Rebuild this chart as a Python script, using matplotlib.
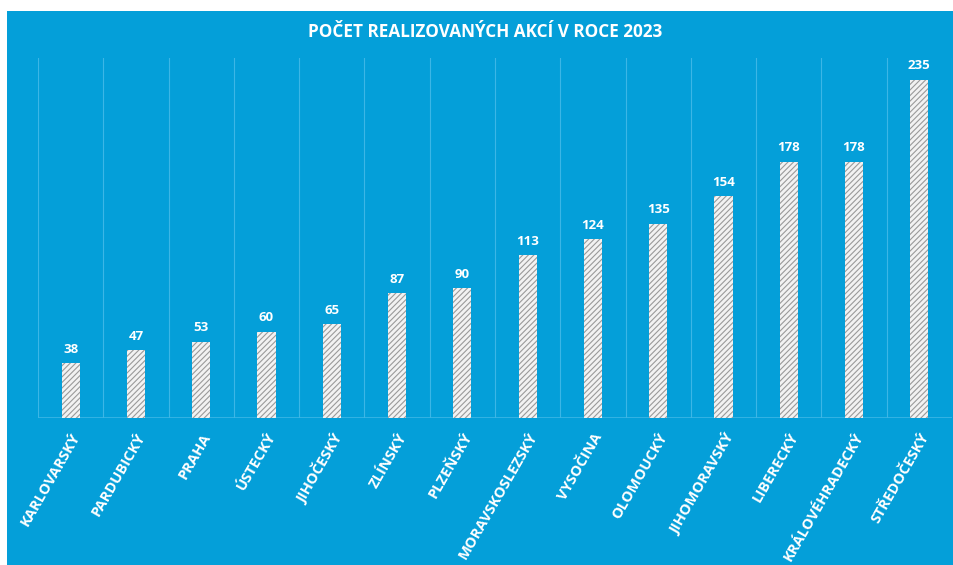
import matplotlib.pyplot as plt
import matplotlib.patches as mpatches
import numpy as np

plt.rcParams['font.family'] = ['Open Sans', 'DejaVu Sans']
plt.rcParams['hatch.color'] = '#9a9a9a'
plt.rcParams['hatch.linewidth'] = 0.8

# Data
regions = ['KARLOVARSKÝ', 'PARDUBICKÝ', 'PRAHA', 'ÚSTECKÝ', 'JIHOČESKÝ', 'ZLÍNSKÝ',
           'PLZEŇSKÝ', 'MORAVSKOSLEZSKÝ', 'VYSOČINA', 'OLOMOUCKÝ', 'JIHOMORAVSKÝ',
           'LIBERECKÝ', 'KRÁLOVÉHRADECKÝ', 'STŘEDOČESKÝ']
actions = [38, 47, 53, 60, 65, 87, 90, 113, 124, 135, 154, 178, 178, 235]

BLUE = '#049fd9'
GRID = '#3cb6e6'

fig = plt.figure(figsize=(9.54, 5.65), dpi=100, facecolor='white')
# blue panel (thin white margin at left and top)
fig.patches.append(mpatches.Rectangle((7 / 954, -0.01), 1.05, 1.01 - 11 / 565,
                                      transform=fig.transFigure, facecolor=BLUE,
                                      edgecolor='none', zorder=-10))

ax = fig.add_axes([38 / 954, 1 - 418 / 565, 914 / 954, 360 / 565])
ax.set_facecolor('none')
ax.set_zorder(5)

x = np.arange(len(regions))
bars = ax.bar(x, actions, width=0.28, color='#f2f2f2', edgecolor='#9a9a9a',
              linewidth=0, hatch='//////', zorder=3)

for xi, v in zip(x, actions):
    ax.text(xi, v + 5, str(v), ha='center', va='bottom', color='white',
            fontsize=9.5, fontweight='bold')

# separators between categories
for b in np.arange(-0.5, len(regions) + 0.5, 1):
    ax.axvline(b, color=GRID, linewidth=0.8, zorder=1)
ax.axhline(0, color=GRID, linewidth=1.2, zorder=2)

ax.set_xlim(-0.5, len(regions) - 0.5)
ax.set_ylim(0, 250)
ax.set_yticks([])
ax.set_xticks(x)
ax.set_xticklabels(regions, rotation=60, ha='right', rotation_mode='anchor',
                   color='white', fontsize=10.5, fontweight='bold')
ax.tick_params(axis='x', length=0, pad=9)
for s in ax.spines.values():
    s.set_visible(False)

fig.text(485 / 954, 1 - 32 / 565, 'POČET REALIZOVANÝCH AKCÍ V ROCE 2023', ha='center',
         va='center', color='white', fontsize=12.3, fontweight='bold')

fig.savefig('out.png', dpi=100, facecolor=fig.get_facecolor())
